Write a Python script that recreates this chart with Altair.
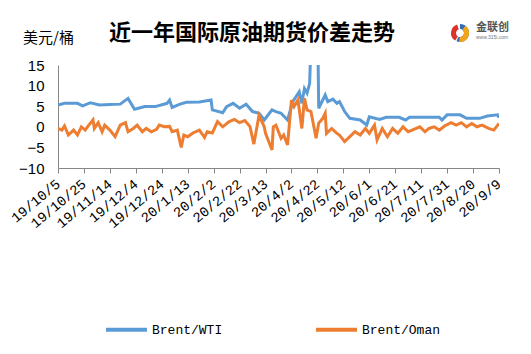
import altair as alt
import pandas as pd

title_text = "近一年国际原油期货价差走势"
unit_text = "美元/桶"
series_names = ["Brent/WTI", "Brent/Oman"]
series_colors = ["#5B9BD5", "#ED7D31"]

wti_dates = ["2019-10-05","2019-10-10","2019-10-20","2019-10-24","2019-10-30","2019-11-06","2019-11-14",
             "2019-11-22","2019-11-28","2019-12-03","2019-12-11","2019-12-19","2019-12-28","2019-12-30",
             "2020-01-01","2020-01-07","2020-01-12","2020-01-22","2020-01-31","2020-02-01","2020-02-09",
             "2020-02-12","2020-02-17","2020-02-22","2020-02-27","2020-03-03","2020-03-08","2020-03-12",
             "2020-03-18","2020-03-21","2020-03-25","2020-03-30","2020-04-03","2020-04-08","2020-04-10",
             "2020-04-12","2020-04-14","2020-04-16","2020-04-17","2020-04-20","2020-04-22","2020-04-23",
             "2020-04-28","2020-04-30","2020-05-04","2020-05-07","2020-05-09","2020-05-13","2020-05-17",
             "2020-05-25","2020-05-30","2020-06-01","2020-06-09","2020-06-14","2020-06-24","2020-06-29",
             "2020-07-02","2020-07-25","2020-07-27","2020-07-31","2020-08-10","2020-08-15","2020-08-25",
             "2020-08-31","2020-09-08","2020-09-09"]
wti_values = [5.3,5.7,5.7,5.1,5.85,5.3,5.4,
              5.5,6.9,4.25,4.9,4.9,5.7,6.5,
              4.7,5.5,5.95,6.0,6.5,4.1,3.4,
              4.9,5.7,4.5,5.5,3.7,3.3,1.65,
              4.1,3.7,3.3,1.65,6.1,8.5,5.7,
              9.3,8.2,10.5,20,63,30,4.5,
              7.7,6.1,6.7,5.7,6.1,3.7,2.05,
              1.65,0.45,2.45,1.8,2.3,2.3,1.65,
              2.3,2.3,1.65,2.9,2.9,2.05,2.05,
              2.6,2.9,2.2]

oman_dates = ["2019-10-05","2019-10-08","2019-10-10","2019-10-13","2019-10-17","2019-10-20","2019-10-23",
              "2019-10-26","2019-10-28","2019-11-01","2019-11-02","2019-11-05","2019-11-08","2019-11-10",
              "2019-11-14","2019-11-18","2019-11-22","2019-11-26","2019-11-28","2019-12-02","2019-12-05",
              "2019-12-09","2019-12-12","2019-12-16","2019-12-20","2019-12-22","2019-12-26","2019-12-30",
              "2020-01-01","2020-01-05","2020-01-08","2020-01-10","2020-01-13","2020-01-17","2020-01-22",
              "2020-01-26","2020-01-28","2020-02-01","2020-02-05","2020-02-09","2020-02-14","2020-02-18",
              "2020-02-22","2020-02-26","2020-03-01","2020-03-04","2020-03-08","2020-03-12","2020-03-13",
              "2020-03-18","2020-03-19","2020-03-21","2020-03-25","2020-03-27","2020-03-30","2020-04-02",
              "2020-04-04","2020-04-07","2020-04-10","2020-04-12","2020-04-14","2020-04-17","2020-04-21",
              "2020-04-23","2020-04-26","2020-04-28","2020-04-29","2020-05-03","2020-05-07","2020-05-09",
              "2020-05-13","2020-05-17","2020-05-21","2020-05-25","2020-05-29","2020-06-01","2020-06-05",
              "2020-06-07","2020-06-11","2020-06-15","2020-06-19","2020-06-23","2020-06-27","2020-07-01",
              "2020-07-04","2020-07-10","2020-07-14","2020-07-17","2020-07-21","2020-07-25","2020-07-29",
              "2020-08-03","2020-08-07","2020-08-11","2020-08-15","2020-08-19","2020-08-23","2020-08-27",
              "2020-09-01","2020-09-05","2020-09-08","2020-09-09"]
oman_values = [-0.4,-0.8,0.2,-2.0,-0.8,-2.0,0.0,
               -0.8,0.1,1.7,-0.4,1.0,-1.2,0.4,
               -0.8,-2.4,0.4,1.0,-1.2,-0.4,0.4,
               -1.2,-0.4,-1.2,-0.6,0.4,0.0,0.1,
               -1.2,-0.8,-5.0,-2.0,-2.4,-1.5,-0.8,
               -2.6,-1.2,-1.5,1.25,0.0,1.25,1.8,
               1.0,1.5,0.1,-4.2,2.8,0.0,-1.6,
               -5.6,0.0,0.4,-2.8,-2.0,-4.4,6.5,
               4.9,6.5,-0.4,6.9,4.1,3.7,-2.8,
               0.9,2.0,3.3,-1.6,-0.4,-1.6,-2.0,
               -3.6,-2.4,-1.2,-2.0,-0.4,-1.6,0.4,
               -3.2,-0.4,-2.4,-0.4,-1.6,0.0,-1.2,
               -0.8,0.0,-1.2,-0.4,0.0,-0.8,0.2,
               1.0,0.4,1.0,0.0,0.8,0.0,0.4,
               -0.4,-0.8,0.4,0.8]

tick_dates = ["2019-10-05","2019-10-25","2019-11-14","2019-12-04","2019-12-24","2020-01-13","2020-02-02",
              "2020-02-22","2020-03-13","2020-04-02","2020-04-22","2020-05-12","2020-06-01","2020-06-21",
              "2020-07-11","2020-07-31","2020-08-20","2020-09-09"]
y_ticks = [-10, -5, 0, 5, 10, 15]

# logo segments (colour, start angle, end angle)
logo_colors = ["#2F6DB5", "#D9342B", "#F2A51A"]
logo_theta = [3.9, 2.3, 0.4]
logo_theta2 = [6.1, 3.7, 2.0]

df = pd.concat([
    pd.DataFrame({"date": pd.to_datetime(wti_dates), "value": wti_values, "series": series_names[0]}),
    pd.DataFrame({"date": pd.to_datetime(oman_dates), "value": oman_values, "series": series_names[1]}),
])

tick_vals = [alt.DateTime(year=int(d[:4]), month=int(d[5:7]), date=int(d[8:10])) for d in tick_dates]

lines = alt.Chart(df).mark_line(strokeWidth=3, clip=True).encode(
    x=alt.X("date:T",
            scale=alt.Scale(domain=[tick_vals[0], tick_vals[-1]]),
            axis=alt.Axis(values=tick_vals, format="%y/%-m/%-d", labelAngle=-40, labelAlign="right",
                          labelBaseline="middle", labelFont="Liberation Mono", labelFontSize=14,
                          labelColor="#000000", labelPadding=9, tickSize=5, tickColor="#868686",
                          domainColor="#868686", grid=False, title=None, labelOverlap=False,
                          labelBound=False, labelFlush=False)),
    y=alt.Y("value:Q",
            scale=alt.Scale(domain=[-10, 15], nice=False, zero=False),
            axis=alt.Axis(values=y_ticks, labelFont="Liberation Sans", labelFontSize=15,
                          labelColor="#000000", ticks=False, labelPadding=14, domainColor="#868686",
                          grid=False, title=None, format="d")),
    color=alt.Color("series:N",
                    scale=alt.Scale(domain=series_names, range=series_colors),
                    sort=series_names,
                    legend=alt.Legend(orient="none", legendX=46, legendY=242, direction="horizontal",
                                      title=None, symbolType="stroke", symbolSize=1681,
                                      symbolStrokeWidth=4, labelFont="Liberation Mono",
                                      labelFontSize=13, labelColor="#000000", labelOffset=3,
                                      columnPadding=85)),
)

title = alt.Chart(pd.DataFrame({"t": [title_text]})).mark_text(
    font="Noto Sans CJK SC", fontWeight="bold", fontSize=22, color="#000000", align="center", baseline="middle"
).encode(x=alt.value(194), y=alt.value(-32), text="t:N")

unit = alt.Chart(pd.DataFrame({"t": [unit_text]})).mark_text(
    font="Noto Sans CJK SC", fontSize=15, color="#000000", align="left", baseline="middle"
).encode(x=alt.value(-35), y=alt.value(-27), text="t:N")

logo_arcs = alt.Chart(pd.DataFrame({"c": logo_colors, "t1": logo_theta, "t2": logo_theta2})).mark_arc(
    radius=9, radius2=4
).encode(x=alt.value(402), y=alt.value(-32), theta="t1:Q", theta2="t2:Q",
         color=alt.Color("c:N", scale=None))

logo = alt.Chart(pd.DataFrame({"t": ["金联创"]})).mark_text(
    font="Noto Sans CJK SC", fontSize=11, fontWeight="bold", color="#555555", align="left", baseline="middle"
).encode(x=alt.value(418), y=alt.value(-37), text="t:N")

logo_url = alt.Chart(pd.DataFrame({"t": ["www.315i.com"]})).mark_text(
    font="Liberation Sans", fontSize=5, color="#777777", align="left", baseline="middle"
).encode(x=alt.value(418), y=alt.value(-28), text="t:N")

chart = alt.layer(lines, title, unit, logo_arcs, logo, logo_url).properties(
    width=441, height=103,
    autosize="none",
    padding={"left": 58, "top": 65, "right": 32, "bottom": 186},
).configure_view(stroke=None)

chart.save("out.html", embed_options={"renderer": "svg", "actions": False})
